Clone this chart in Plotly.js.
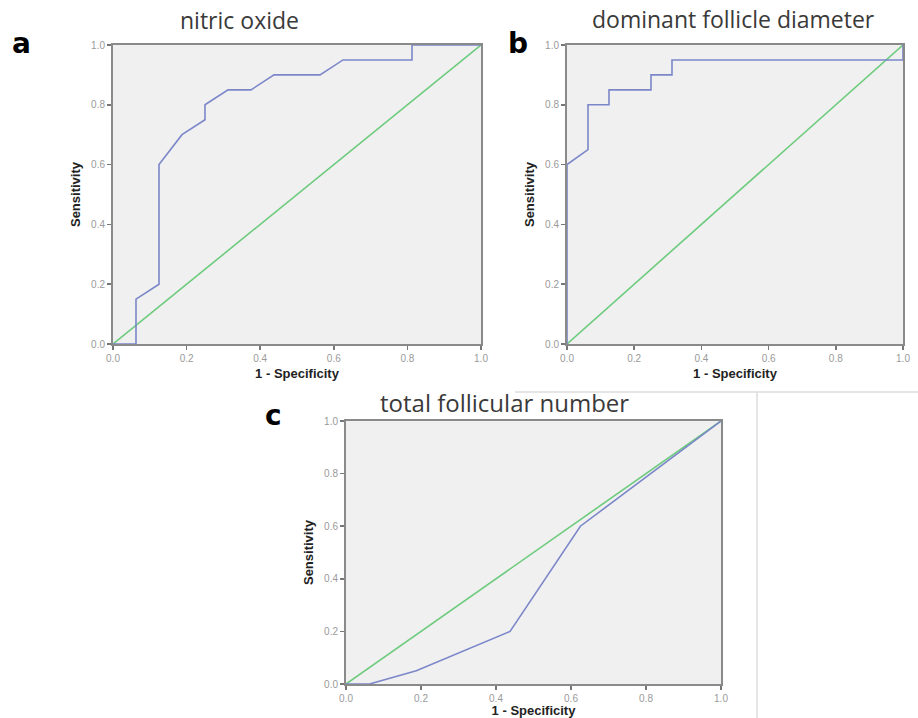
<!DOCTYPE html>
<html>
<head>
<meta charset="utf-8">
<script src="https://cdn.plot.ly/plotly-3.0.1.min.js"></script>
<style>html,body{margin:0;padding:0;background:#fff;}#chart{width:918px;height:718px;}</style>
</head>
<body>
<div id="chart"></div>
<script>
// Panel a: nitric oxide
const noFpr = [0, 0.0625, 0.0625, 0.125, 0.125, 0.1875, 0.25, 0.25, 0.3125, 0.375, 0.4375, 0.5625, 0.625, 0.8125, 0.8125, 1.0];
const noTpr = [0, 0, 0.15, 0.2, 0.6, 0.7, 0.75, 0.8, 0.85, 0.85, 0.9, 0.9, 0.95, 0.95, 1.0, 1.0];
// Panel b: dominant follicle diameter
const dfdFpr = [0, 0, 0.0625, 0.0625, 0.125, 0.125, 0.25, 0.25, 0.3125, 0.3125, 1.0, 1.0];
const dfdTpr = [0, 0.6, 0.65, 0.8, 0.8, 0.85, 0.85, 0.9, 0.9, 0.95, 0.95, 1.0];
// Panel c: total follicular number
const tfnFpr = [0, 0.0625, 0.1875, 0.4375, 0.625, 1.0];
const tfnTpr = [0, 0, 0.05, 0.2, 0.6, 1.0];
// Reference line
const refX = [0, 1];
const refY = [0, 1];
const panelTitles = ["nitric oxide", "dominant follicle diameter", "total follicular number"];
const panelLetters = ["a", "b", "c"];
const tickVals = [0, 0.2, 0.4, 0.6, 0.8, 1.0];
const tickText = ["0.0", "0.2", "0.4", "0.6", "0.8", "1.0"];
const xTitle = "1 - Specificity";
const yTitle = "Sensitivity";

const W = 918, H = 718;
const BLUE = '#7b87c9', GREEN = '#6ccb7c';

const panels = [
  {fx: noFpr, fy: noTpr, x0: 113, x1: 481, y0: 45, y1: 344, xa: 'x', ya: 'y'},
  {fx: dfdFpr, fy: dfdTpr, x0: 567, x1: 903, y0: 45, y1: 344, xa: 'x2', ya: 'y2'},
  {fx: tfnFpr, fy: tfnTpr, x0: 346, x1: 721, y0: 421, y1: 684, xa: 'x3', ya: 'y3'}
];

const data = [];
panels.forEach(p => {
  data.push({x: refX, y: refY, xaxis: p.xa, yaxis: p.ya, type: 'scatter', mode: 'lines',
    line: {color: GREEN, width: 1.6}, hoverinfo: 'skip'});
  data.push({x: p.fx, y: p.fy, xaxis: p.xa, yaxis: p.ya, type: 'scatter', mode: 'lines',
    line: {color: BLUE, width: 1.6}, hoverinfo: 'skip'});
});

function axis(domain, isX, anchor) {
  return {
    domain: domain, range: [0, 1], anchor: anchor,
    tickvals: tickVals, ticktext: tickText,
    ticks: 'outside', ticklen: 4, tickcolor: '#777', tickwidth: 1.5,
    tickfont: {family: 'Liberation Sans, Arial, sans-serif', size: 10, color: '#9a9a9a'},
    showgrid: false, zeroline: false,
    showline: true, mirror: true, linecolor: '#8a8a8a', linewidth: 2,
    title: {text: isX ? xTitle : yTitle, standoff: isX ? 6 : 8,
      font: {family: 'Liberation Sans, Arial, sans-serif', size: 13, color: '#222', weight: 'bold'}},
    automargin: false, fixedrange: true
  };
}

const layout = {
  width: W, height: H,
  margin: {l: 0, r: 0, t: 0, b: 0},
  paper_bgcolor: '#ffffff',
  plot_bgcolor: '#f0f0f0',
  showlegend: false,
  annotations: [],
  shapes: [
    {type: 'line', xref: 'paper', yref: 'paper', x0: 515/W, x1: 1, y0: 1-392/H, y1: 1-392/H, line: {color: '#dcdcdc', width: 1.5}},
    {type: 'line', xref: 'paper', yref: 'paper', x0: 757/W, x1: 757/W, y0: 0, y1: 1-392/H, line: {color: '#dcdcdc', width: 1.5}}
  ]
};

panels.forEach((p, i) => {
  const sfx = i === 0 ? '' : String(i + 1);
  const xd = [p.x0 / W, p.x1 / W];
  const yd = [1 - p.y1 / H, 1 - p.y0 / H];
  layout['xaxis' + sfx] = axis(xd, true, 'y' + sfx);
  layout['yaxis' + sfx] = axis(yd, false, 'x' + sfx);
});

const titlePos = [[239, 20], [733, 19], [504, 402]];
const titleSize = [23, 23, 24];
const letterPos = [[21, 44], [518, 44], [273, 415]];
panelTitles.forEach((t, i) => {
  layout.annotations.push({text: t, xref: 'paper', yref: 'paper', x: titlePos[i][0] / W, y: 1 - titlePos[i][1] / H,
    xanchor: 'center', yanchor: 'middle', showarrow: false,
    font: {family: 'Open Sans, Noto Sans, sans-serif', size: titleSize[i], color: '#3a3a3a'}});
  layout.annotations.push({text: '<b>' + panelLetters[i] + '</b>', xref: 'paper', yref: 'paper', x: letterPos[i][0] / W, y: 1 - letterPos[i][1] / H,
    xanchor: 'center', yanchor: 'middle', showarrow: false,
    font: {family: 'DejaVu Sans, sans-serif', size: 28, color: '#000'}});
});

Plotly.newPlot('chart', data, layout, {displayModeBar: false, staticPlot: true});
</script>
</body>
</html>
